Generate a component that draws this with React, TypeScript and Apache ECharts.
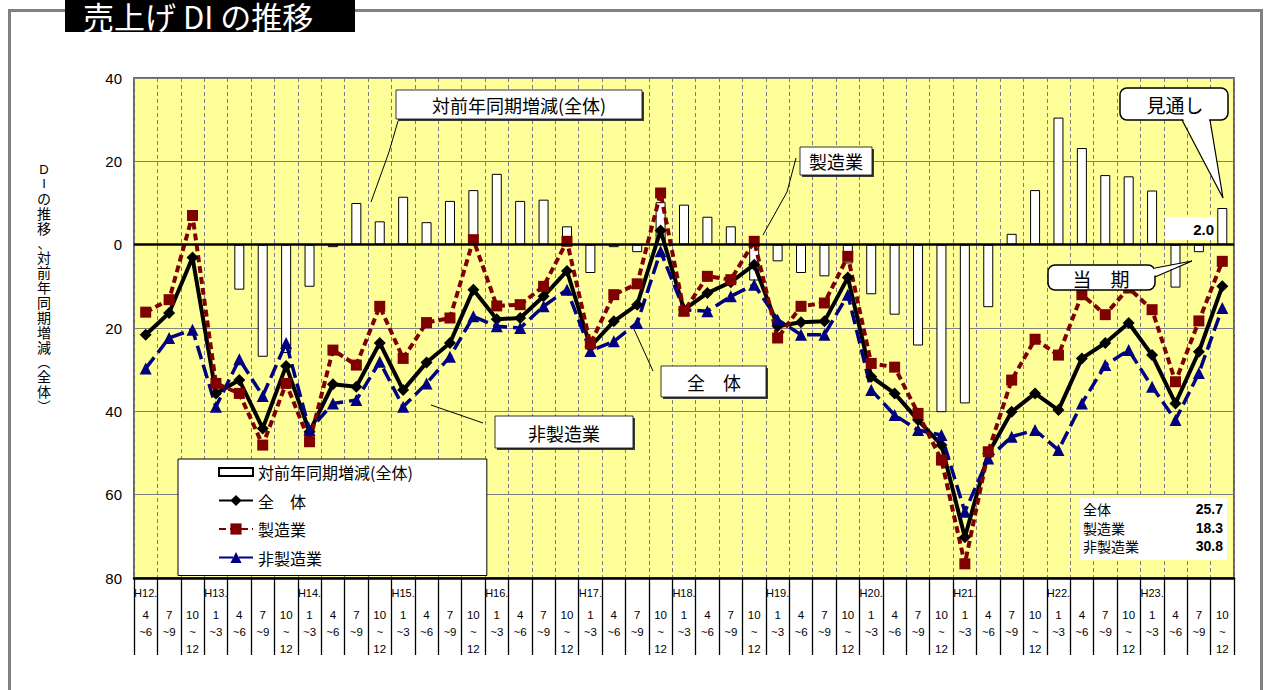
import React, { useEffect, useRef } from 'react';
import * as echarts from 'echarts';

const FONT = "'Liberation Sans', 'Noto Sans CJK JP', 'Noto Sans', sans-serif";
const CJK = "'Noto Sans CJK JP', 'Liberation Sans', sans-serif";

// x-axis: quarter periods and fiscal year marks
const periods = [
  '4~6', '7~9', '10~12',
  '1~3', '4~6', '7~9', '10~12',
  '1~3', '4~6', '7~9', '10~12',
  '1~3', '4~6', '7~9', '10~12',
  '1~3', '4~6', '7~9', '10~12',
  '1~3', '4~6', '7~9', '10~12',
  '1~3', '4~6', '7~9', '10~12',
  '1~3', '4~6', '7~9', '10~12',
  '1~3', '4~6', '7~9', '10~12',
  '1~3', '4~6', '7~9', '10~12',
  '1~3', '4~6', '7~9', '10~12',
  '1~3', '4~6', '7~9', '10~12',
];
const yearLabels = [
  'H12.', '', '',
  'H13.', '', '', '',
  'H14.', '', '', '',
  'H15.', '', '', '',
  'H16.', '', '', '',
  'H17.', '', '', '',
  'H18.', '', '', '',
  'H19.', '', '', '',
  'H20.', '', '', '',
  'H21.', '', '', '',
  'H22.', '', '', '',
  'H23.', '', '', '',
];

// series values
const yoyChange = [
  null, null, null, null, -10.8, -26.9, -26.0, -10.1, -0.6, 10.0, 5.6, 11.5, 5.4, 10.5, 13.1, 17.0,
  10.5, 10.8, 4.4, -6.8, -0.6, -1.8, 10.2, 9.6, 6.7, 4.4, -8.6, -4.0, -6.8, -7.6, -4.5, -11.9,
  -16.8, -24.2, -40.2, -38.1, -15.0, 2.6, 13.1, 30.5, 23.2, 16.7, 16.4, 13.0, -10.3, -1.8, 8.8,
];
const overall = [
  -21.6, -16.4, -3.1, -35.7, -32.5, -44.1, -29.1, -44.9, -33.5, -34.1, -23.6, -34.9, -28.3, -23.6, -10.8, -17.9,
  -17.6, -12.4, -6.3, -24.5, -18.4, -14.4, 3.4, -15.6, -11.6, -9.0, -4.8, -19.6, -18.6, -18.4, -7.9, -31.7,
  -35.7, -42.1, -48.1, -70.2, -50.1, -40.1, -35.7, -39.7, -27.3, -23.6, -18.8, -26.5, -38.1, -25.7, -10.0,
];
const manufacturing = [
  -16.2, -13.2, 7.0, -33.3, -35.7, -48.1, -33.3, -47.3, -25.3, -28.9, -14.8, -27.3, -18.7, -17.6, 1.2, -14.7,
  -14.4, -10.0, 0.8, -23.8, -12.0, -9.4, 12.4, -16.0, -7.6, -8.4, 0.8, -22.4, -14.8, -14.0, -2.8, -28.5,
  -29.4, -40.5, -51.7, -76.6, -49.7, -32.5, -22.7, -26.5, -12.0, -16.8, -10.4, -15.6, -32.9, -18.3, -4.0,
];
const nonManufacturing = [
  -29.7, -22.4, -20.4, -38.9, -27.5, -36.3, -23.6, -44.5, -38.1, -37.3, -28.1, -38.9, -33.3, -26.9, -17.2, -19.6,
  -20.0, -14.8, -10.8, -25.5, -23.2, -18.8, -1.6, -15.6, -16.0, -12.4, -9.6, -18.0, -21.6, -21.6, -12.0, -34.9,
  -40.9, -44.5, -45.7, -64.1, -51.3, -46.1, -44.5, -49.3, -38.1, -28.9, -25.3, -34.1, -42.1, -30.8, -15.2,
];

const seriesNames = ['対前年同期増減(全体)', '全　体', '製造業', '非製造業'];
const currentLabels = ['全体', '製造業', '非製造業'];
const currentValues = ['25.7', '18.3', '30.8'];
const yTitleChars = ['D', 'I', 'の', '推', '移', '、', '対', '前', '年', '同', '期', '増', '減', '︵', '全', '体', '︶'];

const categories = periods.map((p, i) => (yearLabels[i] || '') + p);

function txt(text: string, x: number, y: number, o: any = {}) {
  const align = o.align || 'center';
  return {
    type: 'text',
    x,
    y,
    z: o.z || 30,
    silent: true,
    style: {
      text,
      fill: o.fill || '#000',
      fontSize: o.fontSize || 16,
      fontFamily: o.fontFamily || CJK,
      fontWeight: o.fontWeight || 'normal',
      align,
      textAlign: align,
      verticalAlign: 'middle',
      textVerticalAlign: 'middle',
      rich: o.rich,
    },
  };
}

function shadowBox(x: number, y: number, w: number, h: number) {
  return [
    { type: 'rect', z: 24, silent: true, shape: { x: x + 2, y: y + 2, width: w, height: h }, style: { fill: '#3a3a3a' } },
    { type: 'rect', z: 25, silent: true, shape: { x, y, width: w, height: h }, style: { fill: '#fff', stroke: '#000', lineWidth: 0.8 } },
  ];
}

function leader(points: number[][]) {
  return { type: 'polyline', z: 26, silent: true, shape: { points }, style: { stroke: '#000', lineWidth: 1, fill: 'none' } };
}

function buildGraphic() {
  const g: any[] = [];
  // outer frame
  g.push({ type: 'rect', z: 20, silent: true, shape: { x: 9.5, y: 10.5, width: 1252, height: 700 }, style: { fill: 'none', stroke: '#808080', lineWidth: 3 } });
  // title block
  g.push({ type: 'rect', z: 21, silent: true, shape: { x: 65, y: -2, width: 290, height: 34 }, style: { fill: '#000' } });
  g.push(txt('売上げ DI の推移', 83, 15, { align: 'left', fill: '#fff', fontSize: 31 }));
  // vertical y title as one stacked text
  const styleOf = (c: string) => (/[A-Z]/.test(c) ? 'a' : /[、︵︶]/.test(c) ? 'p' : 'c');
  const stacked = yTitleChars.map((c) => `{${styleOf(c)}|${c}}`).join('\n');
  g.push(txt(stacked, 44, 287, {
    fontSize: 14,
    rich: {
      a: { fontSize: 13, lineHeight: 14, fontFamily: FONT, align: 'center' },
      c: { fontSize: 14, lineHeight: 15, fontFamily: CJK, align: 'center' },
      p: { fontSize: 13, lineHeight: 14, fontFamily: CJK, align: 'center' },
    },
  }));
  // callout: yoy change
  g.push(...shadowBox(396, 90, 246, 29));
  g.push(txt(seriesNames[0], 519, 105, { fontSize: 18 }));
  g.push(leader([[398, 121], [389, 152], [371, 202]]));
  // callout: manufacturing
  g.push(...shadowBox(800, 147, 72, 28));
  g.push(txt('製造業', 836, 161, { fontSize: 18 }));
  g.push(leader([[796, 158], [787, 192], [763, 235]]));
  // callout: overall
  g.push(...shadowBox(661, 366, 105, 31));
  g.push(txt('全　体', 714, 382, { fontSize: 18 }));
  g.push(leader([[653, 371], [633, 327]]));
  // callout: non-manufacturing
  g.push(...shadowBox(495, 416, 138, 32));
  g.push(txt('非製造業', 564, 433, { fontSize: 18 }));
  g.push(leader([[431, 405], [483, 423]]));
  // 見通し bubble
  g.push({ type: 'rect', z: 25, silent: true, shape: { x: 1120, y: 88, width: 108, height: 32, r: 7 }, style: { fill: '#fff', stroke: '#000', lineWidth: 1.5 } });
  g.push({ type: 'polygon', z: 26, silent: true, shape: { points: [[1183, 118.8], [1223, 198], [1209, 118.8]] }, style: { fill: '#fff' } });
  g.push({ type: 'polyline', z: 27, silent: true, shape: { points: [[1182, 120], [1223, 198], [1210, 120]] }, style: { stroke: '#000', lineWidth: 1.2, fill: 'none' } });
  g.push(txt('見通し', 1175, 104, { fontSize: 19 }));
  // 当期 bubble
  g.push({ type: 'rect', z: 25, silent: true, shape: { x: 1048, y: 265, width: 107, height: 25, r: 7 }, style: { fill: '#fff', stroke: '#000', lineWidth: 1.5 } });
  g.push({ type: 'polygon', z: 26, silent: true, shape: { points: [[1153.8, 269], [1192, 261], [1153.8, 276]] }, style: { fill: '#fff' } });
  g.push({ type: 'polyline', z: 27, silent: true, shape: { points: [[1155, 268], [1192, 261], [1155, 277]] }, style: { stroke: '#000', lineWidth: 1.2, fill: 'none' } });
  g.push(txt('当　期', 1101, 278, { fontSize: 19 }));
  // 2.0 box
  g.push({ type: 'rect', z: 25, silent: true, shape: { x: 1166, y: 217, width: 50, height: 23 }, style: { fill: '#fff' } });
  g.push(txt('2.0', 1214, 229, { align: 'right', fontSize: 15, fontWeight: 'bold', fontFamily: FONT }));
  // current-period value box
  g.push({ type: 'rect', z: 25, silent: true, shape: { x: 1080, y: 498, width: 147, height: 62 }, style: { fill: '#fff' } });
  currentLabels.forEach((l, i) => {
    const y = 509 + i * 18.7;
    g.push(txt(l, 1083, y, { align: 'left', fontSize: 14 }));
    g.push(txt(currentValues[i], 1223, y, { align: 'right', fontSize: 14, fontWeight: 'bold', fontFamily: FONT }));
  });
  return g;
}

export default function App() {
  const ref = useRef<HTMLDivElement>(null);
  useEffect(() => {
    if (!ref.current) return;
    const chart = echarts.init(ref.current, undefined, { renderer: 'svg' });
    const option: any = {
      animation: false,
      backgroundColor: '#fff',
      textStyle: { fontFamily: FONT },
      grid: {
        left: 134, right: 31, top: 78, bottom: 112,
        show: true, backgroundColor: '#FFFF99', borderColor: '#333', borderWidth: 1.5,
      },
      legend: {
        orient: 'vertical', left: 178, top: 459, z: 10,
        padding: [5, 74, 10, 40],
        itemWidth: 34, itemHeight: 14, itemGap: 12.5,
        backgroundColor: '#fff', borderColor: '#000', borderWidth: 1,
        selectedMode: false,
        textStyle: { fontSize: 16, color: '#000', fontFamily: CJK },
        data: [
          { name: seriesNames[0], icon: 'path://M0,0M0,3h34v8h-34zM34,14' },
          { name: seriesNames[1] },
          { name: seriesNames[2] },
          { name: seriesNames[3] },
        ],
      },
      xAxis: {
        type: 'category',
        data: categories,
        boundaryGap: true,
        axisLine: { onZero: false, lineStyle: { color: '#000', width: 2.5 } },
        axisTick: { show: true, interval: 0, length: 77, lineStyle: { color: '#000', width: 1.3 } },
        axisLabel: {
          interval: 0,
          margin: 0,
          color: '#000',
          formatter: (_v: string, i: number) => {
            const y = yearLabels[i] ? `{y|${yearLabels[i]}}` : '{y| }';
            const [a, b] = periods[i].split('~');
            const m = a === '10' ? '{m|10}\n{m|~}\n{m|12}' : `{m|${a}}\n{m|~${b}}`;
            return `${y}\n${m}`;
          },
          rich: {
            y: { fontSize: 11, lineHeight: 29, color: '#000', fontFamily: FONT },
            m: { fontSize: 11.5, lineHeight: 16.7, color: '#000', fontFamily: FONT },
          },
        },
        splitLine: { show: true, interval: 0, lineStyle: { color: '#7a7a8c', type: [4, 3], width: 1 } },
      },
      yAxis: {
        type: 'value',
        min: -80,
        max: 40,
        interval: 20,
        axisLine: { show: false },
        axisTick: { show: false },
        axisLabel: { formatter: (v: number) => String(Math.abs(v)), fontSize: 15, color: '#000', margin: 12, fontFamily: FONT },
        splitLine: { lineStyle: { color: '#808080', width: 1 } },
      },
      series: [
        {
          name: seriesNames[0], type: 'bar', data: yoyChange, barWidth: 10, z: 2, silent: true,
          itemStyle: { color: '#fff', borderColor: '#000', borderWidth: 1 },
          markLine: {
            silent: true, symbol: ['none', 'none'], label: { show: false },
            lineStyle: { color: '#000', width: 2.5, type: 'solid' },
            data: [{ yAxis: 0 }],
          },
        },
        {
          name: seriesNames[1], type: 'line', data: overall, z: 3, silent: true,
          symbol: 'diamond', symbolSize: 12,
          lineStyle: { color: '#000', width: 4 },
          itemStyle: { color: '#000' },
        },
        {
          name: seriesNames[3], type: 'line', data: nonManufacturing, z: 3, silent: true,
          symbol: 'triangle', symbolSize: 12,
          lineStyle: { color: '#000080', width: 3.5, type: [14, 6] },
          itemStyle: { color: '#000080' },
        },
        {
          name: seriesNames[2], type: 'line', data: manufacturing, z: 3, silent: true,
          symbol: 'rect', symbolSize: 11,
          lineStyle: { color: '#800000', width: 4, type: [7, 4] },
          itemStyle: { color: '#800000' },
        },
      ],
      graphic: buildGraphic(),
    };
    chart.setOption(option);
    return () => chart.dispose();
  }, []);
  return <div ref={ref} style={{ position: 'absolute', left: 0, top: 0, width: 1265, height: 690 }} />;
}
